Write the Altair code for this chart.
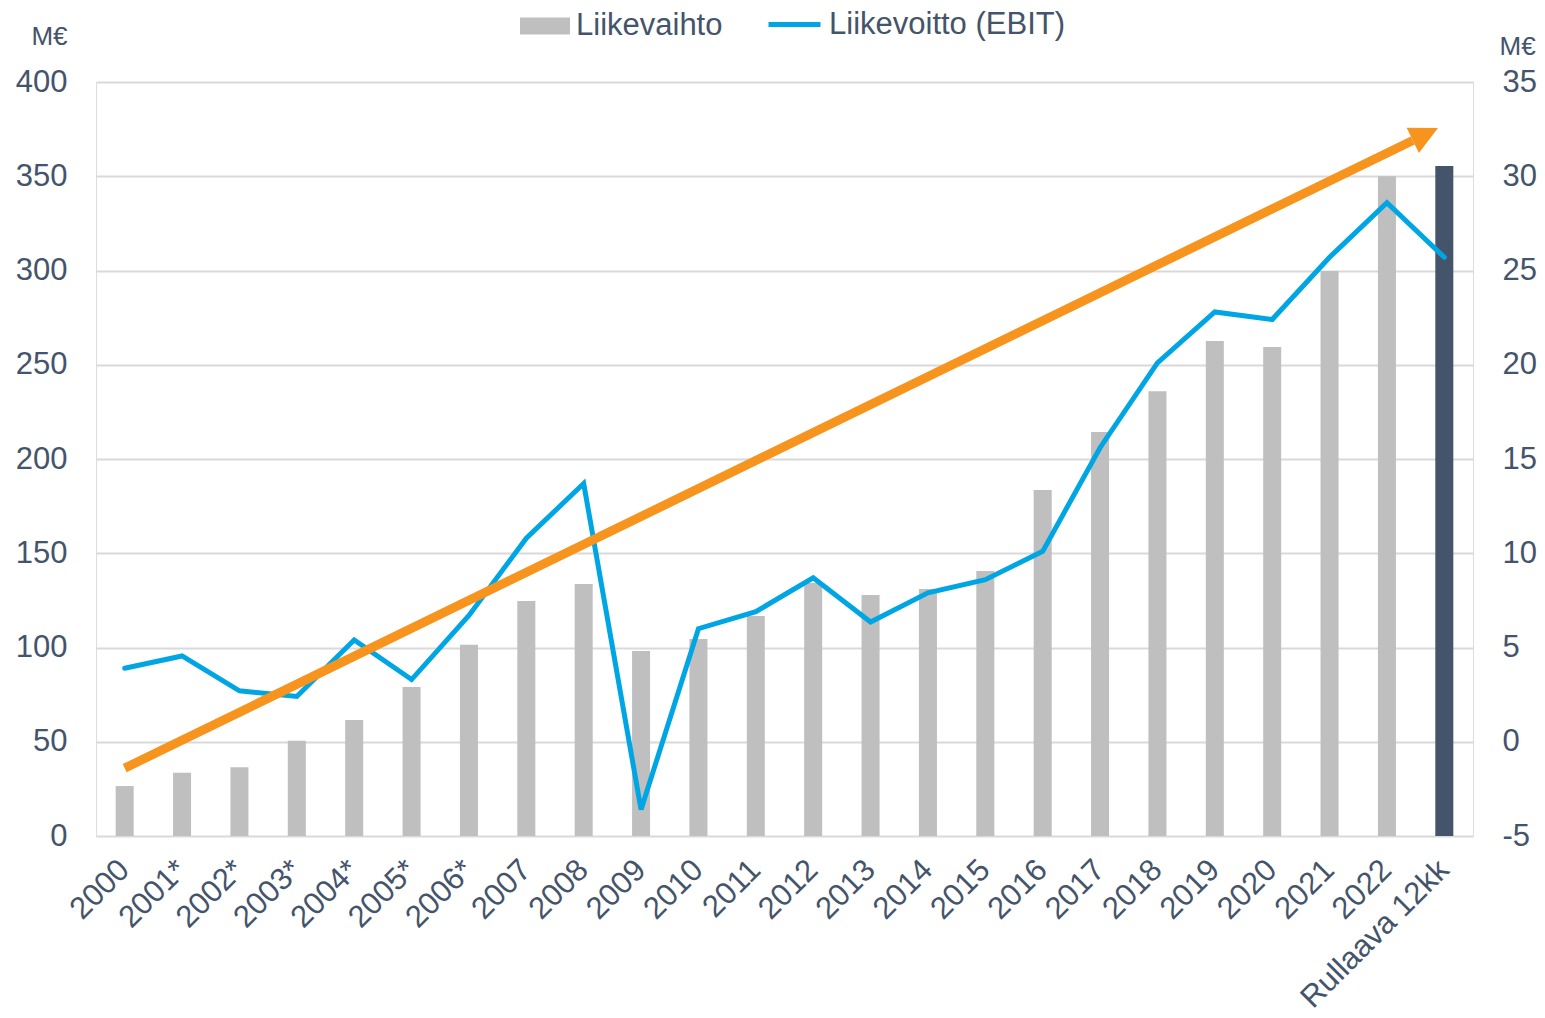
import altair as alt
import pandas as pd

categories = ["2000", "2001*", "2002*", "2003*", "2004*", "2005*", "2006*", "2007", "2008",
              "2009", "2010", "2011", "2012", "2013", "2014", "2015", "2016", "2017", "2018",
              "2019", "2020", "2021", "2022", "Rullaava 12kk"]
liikevaihto = [26.5, 33.5, 36.5, 50.5, 61.5, 79, 101.5, 124.7, 133.7, 98.1, 104.5, 116.7,
               134.2, 127.9, 131, 140.6, 183.6, 214.3, 236, 262.6, 259.4, 299.7, 350, 355.4]
liikevoitto = [3.9, 4.55, 2.7, 2.4, 5.4, 3.3, 6.7, 10.8, 13.7, -3.6, 6.0, 6.9, 8.7, 6.35,
               7.9, 8.6, 10.1, 15.6, 20.1, 22.8, 22.4, 25.7, 28.6, 25.7]
bar_kind = ["Liikevaihto"] * 23 + ["Rullaava"]

# trend arrow (category index on x, left-axis M€ on y)
trend_x = [0, 22.45]
trend_y = [36, 369]
head_x = [22.67]
head_y = [372.3]

TXT = "#44546A"
FONT = "Liberation Sans"
FS = 31

df = pd.DataFrame({"cat": categories, "rev": liikevaihto, "ebit": liikevoitto,
                   "kind": bar_kind, "series": ["Liikevoitto (EBIT)"] * len(categories)})
df_trend = pd.DataFrame({"tx": trend_x, "ty": trend_y})
df_head = pd.DataFrame({"tx": head_x, "ty": head_y})

bars = alt.Chart(df).mark_bar().encode(
    x=alt.X("cat:N", sort=categories, title=None,
            scale=alt.Scale(paddingInner=0.686, paddingOuter=0.343),
            axis=alt.Axis(labelAngle=-45, labelAlign="right", labelBaseline="middle",
                          labelPadding=29, ticks=False, domain=False, grid=False,
                          labelLimit=1000, labelOverlap=False,
                          labelFontSize=FS, labelColor=TXT, labelFont=FONT)),
    y=alt.Y("rev:Q", scale=alt.Scale(domain=[0, 400], nice=False),
            axis=alt.Axis(orient="left", values=list(range(0, 401, 50)), ticks=False,
                          tickSize=0, domain=False, grid=True, gridColor="#D9D9D9",
                          gridWidth=2, labelPadding=29, labelFontSize=FS, labelColor=TXT,
                          labelFont=FONT, title="M€", titleAngle=0, titleX=-29, titleY=-38,
                          titleAlign="right", titleBaseline="alphabetic", titleFontSize=26,
                          titleFontWeight="normal", titleColor=TXT, titleFont=FONT)),
    color=alt.Color("kind:N", scale=alt.Scale(domain=["Liikevaihto", "Rullaava"],
                                              range=["#BFBFBF", "#44546A"]),
                    legend=alt.Legend(values=["Liikevaihto"], title=None, orient="none",
                                      legendX=424, legendY=-81, padding=0,
                                      symbolType="M-1,-0.34H1V0.34H-1Z", symbolSize=2500,
                                      symbolOpacity=1, symbolStrokeWidth=0, labelLimit=1000,
                                      labelFontSize=FS, labelColor=TXT, labelFont=FONT,
                                      labelOffset=6)),
)

ebit = alt.Chart(df).mark_line(strokeWidth=5, strokeJoin="miter", strokeCap="round").encode(
    x=alt.X("cat:N", sort=categories, axis=None),
    y=alt.Y("ebit:Q", scale=alt.Scale(domain=[-5, 35], nice=False, zero=False),
            axis=alt.Axis(orient="right", values=list(range(-5, 36, 5)), ticks=False,
                          tickSize=0, domain=False, grid=False, labelPadding=29,
                          labelExpr="toString(datum.value)",
                          labelFontSize=FS, labelColor=TXT, labelFont=FONT, title="M€",
                          titleAngle=0, titleX=26, titleY=-28, titleAlign="left",
                          titleBaseline="alphabetic", titleFontSize=26,
                          titleFontWeight="normal", titleColor=TXT, titleFont=FONT)),
    stroke=alt.Stroke("series:N", scale=alt.Scale(domain=["Liikevoitto (EBIT)"],
                                                  range=["#00A6E3"]),
                      legend=alt.Legend(title=None, orient="none", legendX=670, legendY=-86,
                                        padding=0, symbolType="stroke", symbolSize=2704,
                                        symbolStrokeWidth=5, labelLimit=1000,
                                        labelFontSize=FS,
                                        labelColor=TXT, labelFont=FONT, labelOffset=6)),
)

xq = alt.Scale(domain=[-0.5, 23.5], nice=False, zero=False)
yq = alt.Scale(domain=[0, 400], nice=False)

shaft = alt.Chart(df_trend).mark_line(color="#F7941D", strokeWidth=9, strokeCap="butt").encode(
    x=alt.X("tx:Q", scale=xq, axis=None),
    y=alt.Y("ty:Q", scale=yq, axis=None),
)

head = alt.Chart(df_head).mark_point(shape="M0,-1L-1,1L1,1Z", filled=True, size=784,
                                     angle=64, color="#F7941D", opacity=1).encode(
    x=alt.X("tx:Q", scale=xq, axis=None),
    y=alt.Y("ty:Q", scale=yq, axis=None),
)

chart = alt.layer(bars, ebit, shaft, head).resolve_scale(
    x="independent", y="independent", color="independent", stroke="independent"
).properties(
    width=1377, height=754,
    autosize=alt.AutoSizeParams(type="none"),
    padding={"left": 88, "top": 74, "right": 64, "bottom": 174},
).configure_view(stroke=None).configure(background="white")

chart.save("out.html", embed_options={"renderer": "svg", "actions": False})
